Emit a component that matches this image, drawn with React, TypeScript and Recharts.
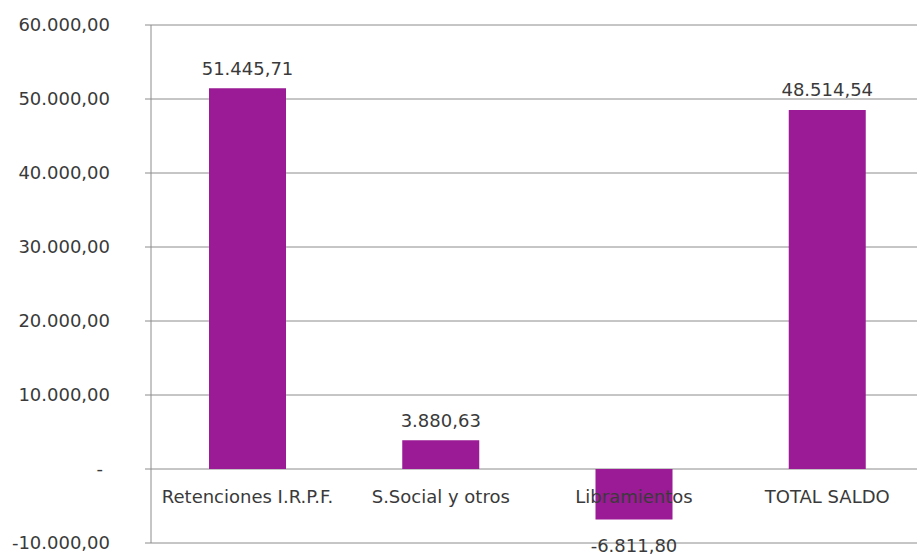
import React from 'react';
import { BarChart, Bar, XAxis, YAxis, CartesianGrid, LabelList } from 'recharts';

const categories = ['Retenciones I.R.P.F.', 'S.Social y otros', 'Libramientos', 'TOTAL SALDO'];
const saldos = [51445.71, 3880.63, -6811.8, 48514.54];
const yTicks = [-10000, 0, 10000, 20000, 30000, 40000, 50000, 60000];

const data = categories.map((name, i) => ({ name, saldo: saldos[i] }));

const CHART_W = 925;
const CHART_H = 556;
const MARGIN = { top: 25, right: 1, bottom: 12, left: 0 };
const X_AXIS_H = 1;
const Y_MIN = -10000;
const Y_MAX = 60000;
const FONT = '"DejaVu Sans", Verdana, sans-serif';
const TEXT = '#3a3a3a';
const BAR = '#9a1b95';

// 1234.5 -> "1.234,50"
const formatEs = (v: number) => {
  const neg = v < 0;
  const [int, dec] = Math.abs(v).toFixed(2).split('.');
  const grouped = int.replace(/\B(?=(\d{3})+(?!\d))/g, '.');
  return `${neg ? '-' : ''}${grouped},${dec}`;
};

const plotH = CHART_H - MARGIN.top - MARGIN.bottom - X_AXIS_H;
const zeroY = MARGIN.top + (plotH * Y_MAX) / (Y_MAX - Y_MIN);

const YTick = (props: any) => {
  const { x, y, payload } = props;
  const v = payload.value;
  return (
    <text x={x} y={y} dx={v === 0 ? -7 : 0} dy="0.35em" textAnchor="end" fill={TEXT} fontSize={18} fontFamily={FONT}>
      {v === 0 ? '-' : formatEs(v)}
    </text>
  );
};

// category names sit just under the zero line and are drawn above the bars
const CategoryLabel = (props: any) => {
  const { x, width, value } = props;
  return (
    <text x={x + width / 2} y={zeroY + 28} dy="0.35em" textAnchor="middle" fill={TEXT} fontSize={18} fontFamily={FONT}>
      {value}
    </text>
  );
};

const ValueLabel = (props: any) => {
  const { x, y, width, height, value } = props;
  const top = Math.min(y, y + height);
  const bottom = Math.max(y, y + height);
  const cy = value >= 0 ? top - 20 : bottom + 26;
  return (
    <text x={x + width / 2} y={cy} dy="0.35em" textAnchor="middle" fill={TEXT} fontSize={18} fontFamily={FONT}>
      {formatEs(value)}
    </text>
  );
};

export default function App() {
  return (
    <div style={{ position: 'absolute', left: 0, top: 0, width: 917, height: 556, overflow: 'hidden', background: '#fff' }}>
      <BarChart width={CHART_W} height={CHART_H} data={data} margin={MARGIN}>
        <CartesianGrid vertical={false} stroke="#8c8c8c" />
        <XAxis dataKey="name" height={X_AXIS_H} axisLine={false} tickLine={false} tick={false} />
        <YAxis
          width={151}
          domain={[Y_MIN, Y_MAX]}
          ticks={yTicks}
          interval={0}
          tick={<YTick />}
          tickSize={6}
          tickMargin={35}
          axisLine={{ stroke: '#8c8c8c' }}
          tickLine={{ stroke: '#8c8c8c' }}
        />
        <Bar dataKey="saldo" fill={BAR} barSize={77} isAnimationActive={false}>
          <LabelList dataKey="name" content={<CategoryLabel />} />
          <LabelList dataKey="saldo" content={<ValueLabel />} />
        </Bar>
      </BarChart>
    </div>
  );
}
